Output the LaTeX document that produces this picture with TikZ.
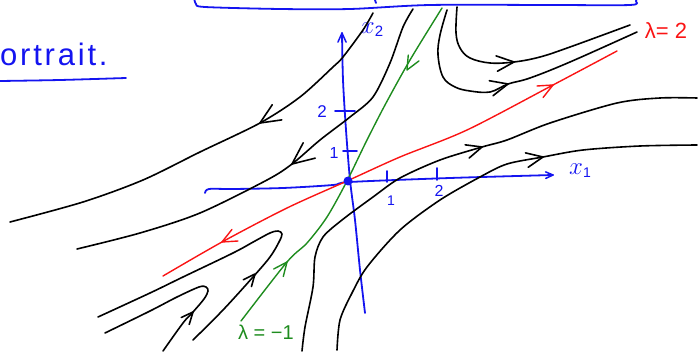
\documentclass[tikz,border=0pt]{standalone}
\usepackage{fontspec}
\setmainfont{Liberation Sans}
\newfontfamily\handfont[LetterSpace=9]{Liberation Sans}
\usetikzlibrary{calc}
\definecolor{penblue}{RGB}{20,20,240}
\definecolor{penred}{RGB}{250,20,20}
\definecolor{pengreen}{RGB}{30,140,30}
\newcommand\barbat[4][]{\draw[line cap=round,line join=round,#1] ($(#2)!#4pt!24:(#3)$) -- (#2) -- ($(#2)!#4pt!-24:(#3)$);}
\begin{document}
\begin{tikzpicture}[x=1pt,y=-1pt,
  traj/.style={black, line width=1.6pt, line cap=round, line join=round},
  eigred/.style={penred, line width=1.4pt, line cap=round, line join=round},
  eiggreen/.style={pengreen, line width=1.4pt, line cap=round, line join=round},
  axis/.style={penblue, line width=1.8pt, line cap=round, line join=round},
  lbl/.style={inner sep=0pt}]
\useasboundingbox (0,0) rectangle (700,352);

% top box (cut off)
\draw[axis] plot[smooth, tension=0.5] coordinates {(194,-3)(196,4)(205,7)(280,9)(350,9)(430,5)(550,5)(630,5)(636,1)(637,-3)};
\draw[axis] (375,0) -- (376,3);

% title fragment
\node[lbl, anchor=base west, text=penblue, font=\handfont\fontsize{31}{31}\selectfont] (title) at (0,66) {ortrait.};
\draw[axis] plot[smooth] coordinates {(0,81)(60,80)(126,78)};

% axes
\draw[axis] plot[smooth, tension=0.5] coordinates {(205,193)(209,189)(233,189)(283,188)(333,185)(350,182)(450,178)(553,175)};
\barbat[axis, line width=1.5pt]{553,175}{530,175.5}{8}
\draw[axis] plot[smooth] coordinates {(365,313)(360,270)(355,220)(350,180)(346,130)(343,80)(342,33)};
\barbat[axis, line width=1.5pt]{342,33}{342,55}{10}
\draw[axis] (335,111) -- (355,111);
\draw[axis] (343,151) -- (357,151);
\draw[axis] (387,171) -- (387,182);
\draw[axis] (437,168) -- (437,180);
\node[lbl, text=penblue, font=\fontsize{17}{17}\selectfont] (t2y) at (322,112) {2};
\node[lbl, text=penblue, font=\fontsize{16}{16}\selectfont] (t1y) at (334,153) {1};
\node[lbl, text=penblue, font=\fontsize{14}{14}\selectfont] (t1x) at (391,201) {1};
\node[lbl, text=penblue, font=\fontsize{16}{16}\selectfont] (t2x) at (439,191) {2};
\node[lbl, text=penblue, font=\fontsize{26}{26}\selectfont] (x2lab) at (372,30) {$x$\raisebox{-0.2ex}{\fontsize{15}{15}\selectfont 2}};
\node[lbl, text=penblue, font=\fontsize{26}{26}\selectfont] (x1lab) at (580,171) {$x$\raisebox{-0.2ex}{\fontsize{14}{14}\selectfont 1}};

% eigenline lambda = 2 (red)
\draw[eigred] plot[smooth] coordinates {(163,276)(222,242)(287,208)(347,181)(400,157)(467,130)(553,85)(617,51)};
\barbat[eigred]{553,85}{530,97}{16}
\barbat[eigred]{222,242}{245,230}{16}
\node[lbl, text=penred, font=\fontsize{22}{22}\selectfont] (lam2) at (666,31) {λ= 2};

% eigenline lambda = -1 (green)
\draw[eiggreen] plot[smooth] coordinates {(241,321)(287,262)(307,243)(327,217)(347,181)(366,142)(385,105)(410,60)(442,8)};
\barbat[eiggreen]{407,70}{418,50}{15}
\barbat[eiggreen]{287,262}{272,281}{15}
\node[lbl, text=pengreen, font=\fontsize{20}{20}\selectfont] (lam1) at (266,332) {λ = −1};

% origin
\fill[penblue] (348,181) circle (4.5pt);
\coordinate (O) at (348,181);

% trajectories: upper left
\draw[traj] plot[smooth] coordinates {(373,13)(363,30)(343,57)(333,67)(300,97)(260,123)(200,152)(143,180)(83,202)(10,222)};
\barbat[traj]{260,123}{295,101}{22}
\draw[traj] plot[smooth] coordinates {(413,9)(403,27)(390,63)(373,97)(350,117)(320,140)(292,164)(267,180)(200,213)(140,233)(77,249)};
\barbat[traj]{292,164}{320,142}{24}

% trajectories: lower left hairpins
\draw[traj] plot[smooth, tension=0.55] coordinates {(193,340)(223,310)(253,277)(270,257)(279,242)(282,234)(278,231)(270,233)(255,241)(233,253)(183,277)(150,293)(98,317)};
\barbat[traj]{255,274}{240,292}{13}
\draw[traj] plot[smooth, tension=0.55] coordinates {(163,351)(183,323)(193,312)(204,299)(208,291)(206,287)(199,287)(177,297)(150,311)(105,333)};
\barbat[traj]{193,312}{180,327}{13}

% trajectories: lower right
\draw[traj] plot[smooth] coordinates {(302,351)(305,327)(313,287)(315,257)(323,237)(342,220)(373,197)(400,178)(440,160)(482,147)(507,140)(550,123)(617,103)(660,98)(697,98)};
\barbat[traj]{482,147}{462,153}{17}
\draw[traj] plot[smooth] coordinates {(337,350)(340,320)(352,293)(367,267)(400,230)(440,200)(480,177)(507,164)(543,157)(583,150)(640,146)(697,145)};
\barbat[traj]{543,157}{522,161}{18}

% trajectories: upper right
\draw[traj] plot[smooth, tension=0.6] coordinates {(447,10)(440,35)(438,55)(443,77)(455,87)(470,91)(490,92)(508,84)(530,78)(570,62)(637,32)};
\barbat[traj]{508,84}{488,89}{19}
\draw[traj] plot[smooth, tension=0.6] coordinates {(457,7)(456,33)(460,48)(470,58)(490,63)(514,62)(540,57)(570,47)(630,25)};
\barbat[traj]{514,62}{492,64}{19}
\end{tikzpicture}
\end{document}
